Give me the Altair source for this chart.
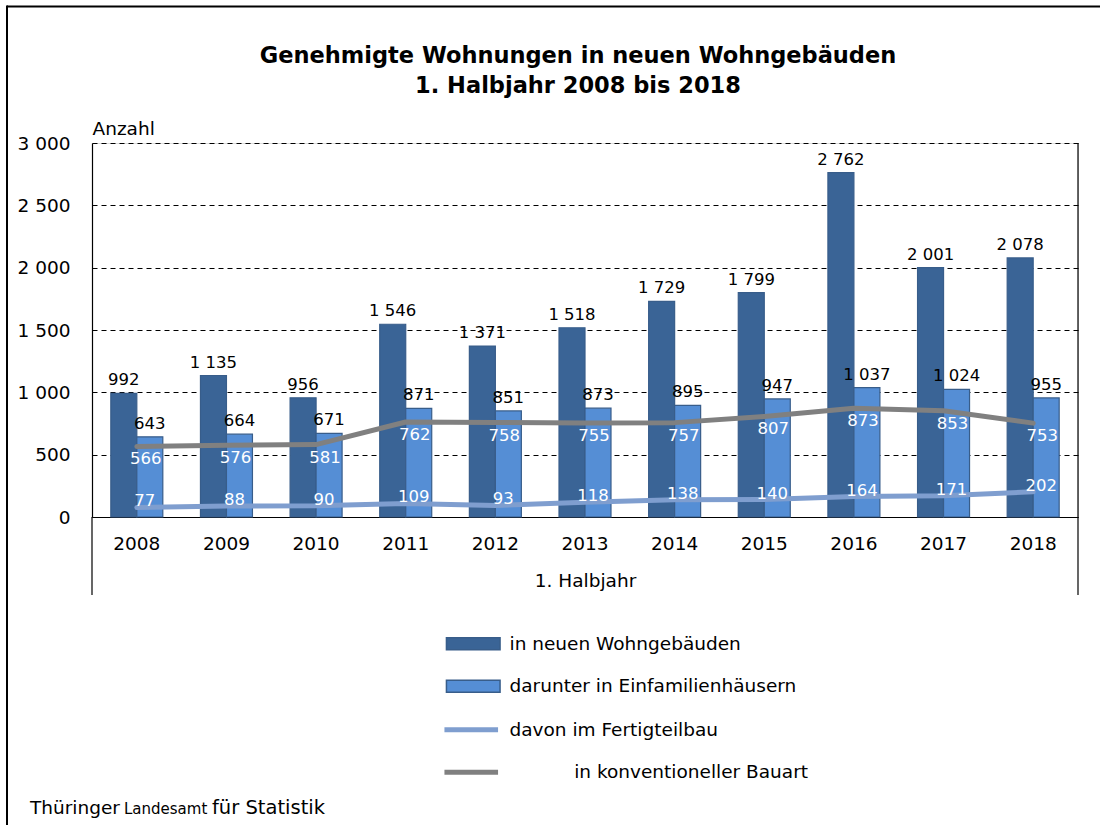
import altair as alt
import pandas as pd

# ---------------- data ----------------
years = ["2008", "2009", "2010", "2011", "2012", "2013", "2014", "2015", "2016", "2017", "2018"]
total = [992, 1135, 956, 1546, 1371, 1518, 1729, 1799, 2762, 2001, 2078]
efh = [643, 664, 671, 871, 851, 873, 895, 947, 1037, 1024, 955]
fertig = [77, 88, 90, 109, 93, 118, 138, 140, 164, 171, 202]
konv = [566, 576, 581, 762, 758, 755, 757, 807, 873, 853, 753]

bar_series = ["in neuen Wohngebäuden", "darunter in Einfamilienhäusern"]
line_series = ["davon im Fertigteilbau", "\u200d" + "\u00a0" * 11 + "in konventioneller Bauart"]
y_ticks = [0, 500, 1000, 1500, 2000, 2500, 3000]

title_lines = ["Genehmigte Wohnungen in neuen Wohngebäuden", "1. Halbjahr 2008 bis 2018"]
footer_parts = ["Thüringer", "Landesamt", "für Statistik"]


def fmt(v):
    return f"{v:,}".replace(",", " ")


bars_df = pd.DataFrame({
    "year": years * 2,
    "series": [bar_series[0]] * len(years) + [bar_series[1]] * len(years),
    "value": total + efh,
})
bars_df["label"] = bars_df["value"].map(fmt)

lines_df = pd.DataFrame({
    "year": years * 2,
    "lseries": [line_series[0]] * len(years) + [line_series[1]] * len(years),
    "value": fertig + konv,
})
lines_df["label"] = lines_df["value"].map(fmt)

# ---------------- styles ----------------
FONT = "DejaVu Sans"
W, H = 986, 374
DARK = "#3A6496"
LIGHT = "#558ED5"
BAR_STROKE = "#385D8A"
GREY = "#808080"
PALE = "#7F9ECF"

x_enc = alt.X(
    "year:N", sort=years,
    scale=alt.Scale(paddingInner=0.42, paddingOuter=0.21),
    axis=alt.Axis(
        title="1. Halbjahr", labelAngle=0, ticks=False, domainColor="#000",
        domainWidth=1.2, labelFontSize=18.5, labelPadding=17, labelColor="#000",
        labelFont=FONT, titleFont=FONT, titleFontSize=18.5, titleFontWeight="normal",
        titleColor="#000", titleY=63, titleBaseline="middle", grid=False,
    ),
)
y_enc = alt.Y(
    "value:Q",
    scale=alt.Scale(domain=[0, 3000], nice=False),
    axis=alt.Axis(
        values=y_ticks,
        labelExpr="replace(format(datum.value, ','), ',', ' ')",
        ticks=False, labelPadding=22, labelFontSize=18.5, labelColor="#000", labelFont=FONT,
        domainColor="#000", domainWidth=1.2,
        grid=True, gridColor="#000", gridDash=[5, 4], gridWidth=1,
        title="Anzahl", titleAngle=0, titleAlign="left", titleBaseline="alphabetic",
        titleX=0, titleY=-8.5, titleFontSize=18.5, titleFontWeight="normal",
        titleFont=FONT, titleColor="#000",
    ),
)
x_plain = alt.X("year:N", sort=years)
y_plain = alt.Y("value:Q")

bar_legend = alt.Legend(
    orient="none", legendX=366.75, legendY=486.25, title=None, direction="vertical",
    symbolType="M-1.95,-0.44H1.95V0.44H-1.95Z", symbolSize=756,
    symbolStrokeColor=BAR_STROKE, symbolStrokeWidth=1.5, symbolOpacity=1,
    labelOffset=21.75, labelFontSize=18.5, labelFont=FONT, labelColor="#000",
    labelLimit=0, rowPadding=18.5, padding=0,
)
line_legend = alt.Legend(
    orient="none", legendX=362.75, legendY=570.25, title=None, direction="vertical",
    symbolType="M-1.95,0H1.95", symbolSize=756, symbolStrokeWidth=5,
    labelOffset=21.75, labelFontSize=18.5, labelFont=FONT, labelColor="#000",
    labelLimit=0, rowPadding=15.5, padding=0,
)

bars = alt.Chart(bars_df).mark_bar(stroke=BAR_STROKE, strokeWidth=1.2).encode(
    x=x_enc, y=y_enc,
    xOffset=alt.XOffset("series:N", sort=bar_series, scale=alt.Scale(domain=bar_series, paddingInner=0, paddingOuter=0)),
    fill=alt.Fill("series:N", scale=alt.Scale(domain=bar_series, range=[DARK, LIGHT]), legend=bar_legend),
)

bar_labels = alt.Chart(bars_df).mark_text(
    baseline="alphabetic", dy=-8, fontSize=16.5, font=FONT, color="#000"
).encode(
    x=x_plain, y=y_plain,
    xOffset=alt.XOffset("series:N", sort=bar_series, scale=alt.Scale(domain=bar_series, paddingInner=0, paddingOuter=0)),
    text="label:N",
)

lines = alt.Chart(lines_df).mark_line(strokeWidth=5, strokeCap="round", strokeJoin="round").encode(
    x=x_plain, y=y_plain,
    stroke=alt.Stroke("lseries:N", scale=alt.Scale(domain=line_series, range=[PALE, GREY]), legend=line_legend),
)

konv_labels = alt.Chart(lines_df).transform_filter(
    alt.datum.lseries == line_series[1]
).mark_text(baseline="middle", dy=13, dx=9, fontSize=16.5, font=FONT, color="#fff").encode(
    x=x_plain, y=y_plain, text="label:N"
)
fert_labels = alt.Chart(lines_df).transform_filter(
    alt.datum.lseries == line_series[0]
).mark_text(baseline="middle", dy=-6, dx=8, fontSize=16.5, font=FONT, color="#fff").encode(
    x=x_plain, y=y_plain, text="label:N"
)

one = alt.Data(values=[{"k": 1}])
right_border = alt.Chart(one).mark_rule(color="#000", strokeWidth=1.2).encode(
    x=alt.value(W), y=alt.value(0), y2=alt.value(452))
left_ext = alt.Chart(one).mark_rule(color="#000", strokeWidth=1.2).encode(
    x=alt.value(0), y=alt.value(H), y2=alt.value(452))
frame_top = alt.Chart(one).mark_rule(color="#000", strokeWidth=2).encode(
    x=alt.value(-85), x2=alt.value(1010), y=alt.value(-136.5))
frame_left = alt.Chart(one).mark_rule(color="#000", strokeWidth=2).encode(
    x=alt.value(-85), y=alt.value(-137.5), y2=alt.value(690))

foot1 = alt.Chart(one).mark_text(text=footer_parts[0], align="left", baseline="alphabetic",
                                 fontSize=18.5, font=FONT, color="#000").encode(
    x=alt.value(-62), y=alt.value(671))
foot2 = alt.Chart(one).mark_text(text=footer_parts[1], align="left", baseline="alphabetic",
                                 fontSize=15, font=FONT, color="#000").encode(
    x=alt.value(32), y=alt.value(671))
foot3 = alt.Chart(one).mark_text(text=footer_parts[2], align="left", baseline="alphabetic",
                                 fontSize=19.5, font=FONT, color="#000").encode(
    x=alt.value(120), y=alt.value(671))

chart = alt.layer(
    bars, bar_labels, lines, konv_labels, fert_labels,
    right_border, left_ext, frame_top, frame_left, foot1, foot2, foot3,
).resolve_scale(fill="independent", stroke="independent").properties(
    width=W, height=H,
    autosize=alt.AutoSizeParams(type="none"),
    padding={"left": 92, "top": 143, "right": 22, "bottom": 308},
    title=alt.TitleParams(
        text=title_lines, fontSize=22.5, fontWeight="bold", font=FONT, color="#000",
        anchor="middle", frame="group", offset=-92.5, lineHeight=30, dx=-7,
    ),
    background="#ffffff",
).configure_view(stroke=None).configure(font=FONT)

chart.save("out.html", embed_options={"renderer": "svg", "actions": False})
